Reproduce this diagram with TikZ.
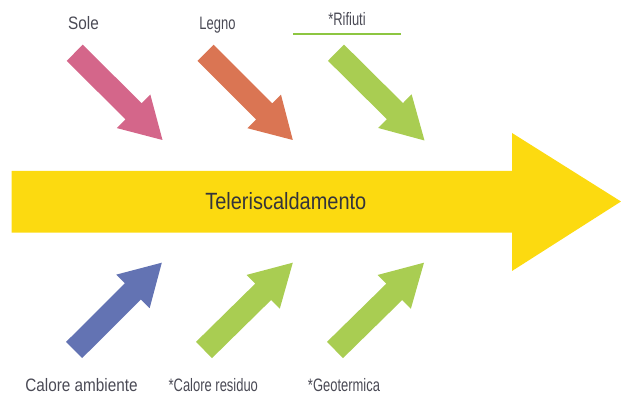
\documentclass[tikz,border=0pt]{standalone}
\usepackage{fontspec}
\setmainfont{Liberation Sans}[FakeStretch=0.85]
\newfontfamily\narrowfont{Liberation Sans}[FakeStretch=0.72]
\usepackage{tikz}
\usetikzlibrary{calc}
\definecolor{heatyellow}{HTML}{FCDA10}
\definecolor{solepink}{HTML}{D4668A}
\definecolor{legnoorange}{HTML}{DA7553}
\definecolor{wastegreen}{HTML}{A9CD52}
\definecolor{rulegreen}{HTML}{8DC641}
\definecolor{ambientblue}{HTML}{6373B3}
\definecolor{labelgray}{HTML}{4A4A55}

% fat block arrow from #2 to #3
\newcommand{\fatarrow}[3][]{%
  \fill[#1] ($(#2)!11.4pt!90:(#3)$) -- ($(#2)!83pt!(#3)!11.4pt!90:(#3)$)
    -- ($(#2)!83pt!(#3)!23.7pt!90:(#3)$) -- (#3)
    -- ($(#2)!83pt!(#3)!23.7pt!-90:(#3)$) -- ($(#2)!83pt!(#3)!11.4pt!-90:(#3)$)
    -- ($(#2)!11.4pt!-90:(#3)$) -- cycle;}

\begin{document}
\begin{tikzpicture}[x=1pt,y=1pt,
    lbl/.style={anchor=base,inner sep=0pt,text=labelgray,font=\fontsize{18}{20}\selectfont},
    nlbl/.style={lbl,font=\narrowfont\fontsize{18}{20}\selectfont},
    mainlbl/.style={inner sep=0pt,text=labelgray!70!black,font=\fontsize{23.5}{26}\selectfont}
]
\useasboundingbox (0,0) rectangle (621,401);

% main arrow
\fill[heatyellow] (11.7,168.3) -- (512,168.3) -- (512,130) -- (621,199.5)
    -- (512,268) -- (512,230) -- (11.7,230) -- cycle;
\node[mainlbl] (tele) at (285.8,200) {Teleriscaldamento};

% sources above
\coordinate (soleA) at (74.7,348.2);
\coordinate (soleB) at (162.5,261);
\coordinate (legnoA) at (205.5,348.2);
\coordinate (legnoB) at (292.8,261);
\coordinate (rifiutiA) at (336,348.3);
\coordinate (rifiutiB) at (424.5,260.5);
\fatarrow[solepink]{soleA}{soleB}
\fatarrow[legnoorange]{legnoA}{legnoB}
\fatarrow[wastegreen]{rifiutiA}{rifiutiB}

\node[lbl] (sole) at (83.5,371.7) {Sole};
\node[nlbl] (legno) at (217.5,371.7) {Legno};
\node[nlbl] (rifiuti) at (347,375.3) {*Rifiuti};
\coordinate (ruleL) at (293.3,366.7);
\coordinate (ruleR) at (401,366.7);
\draw[rulegreen,line width=2pt] (ruleL) -- (ruleR);

% sources below
\coordinate (ambA) at (74.1,51);
\coordinate (ambB) at (161.8,138.3);
\coordinate (resA) at (204,51);
\coordinate (resB) at (292.8,138.3);
\coordinate (geoA) at (335,51);
\coordinate (geoB) at (424,138.3);
\fatarrow[ambientblue]{ambA}{ambB}
\fatarrow[wastegreen]{resA}{resB}
\fatarrow[wastegreen]{geoA}{geoB}

\node[lbl] (ambiente) at (81.5,9.3) {Calore ambiente};
\node[nlbl] (residuo) at (213.3,9.3) {*Calore residuo};
\node[nlbl] (geotermica) at (344,9.3) {*Geotermica};
\end{tikzpicture}
\end{document}
